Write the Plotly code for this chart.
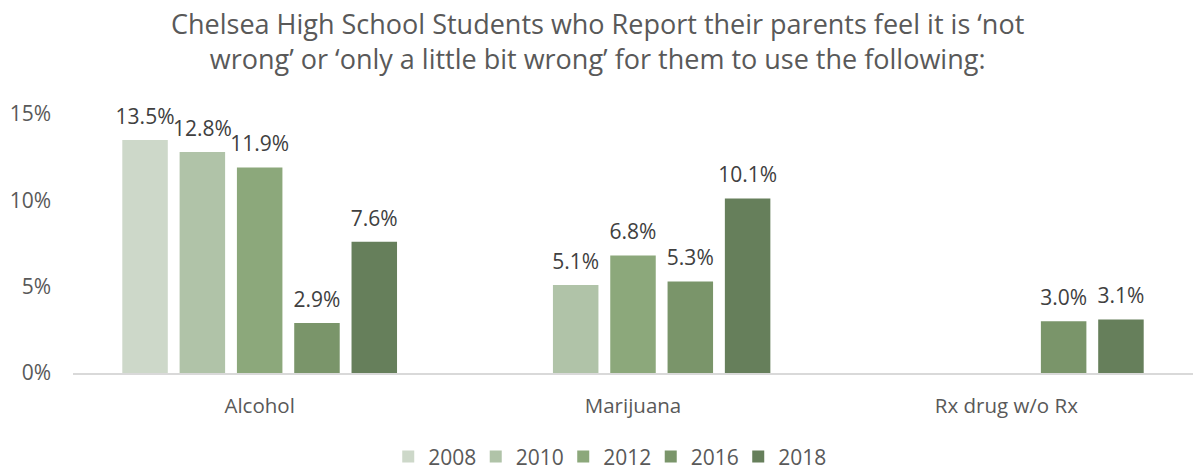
import plotly.graph_objects as go

categories = ["Alcohol", "Marijuana", "Rx drug w/o Rx"]
years = ["2008", "2010", "2012", "2016", "2018"]
values_2008 = [13.5, None, None]
values_2010 = [12.8, 5.1, None]
values_2012 = [11.9, 6.8, None]
values_2016 = [2.9, 5.3, 3.0]
values_2018 = [7.6, 10.1, 3.1]
series = [values_2008, values_2010, values_2012, values_2016, values_2018]
colors = ["#CDD8C9", "#B0C3A8", "#8CA87B", "#7A956A", "#667F5B"]
y_ticks = [0, 5, 10, 15]
y_tick_labels = ["0%", "5%", "10%", "15%"]

FONT = "Open Sans"
TITLE = ("Chelsea High School Students who Report their parents feel it is ‘not<br>"
         "wrong’ or ‘only a little bit wrong’ for them to use the following:")

fig = go.Figure()
for name, vals, col in zip(years, series, colors):
    fig.add_trace(go.Bar(
        name=name, x=categories, y=vals,
        marker=dict(color=col, line=dict(width=0)),
        hoverinfo="skip",
    ))
for name, vals in zip(years, series):
    fig.add_trace(go.Scatter(
        x=categories, y=vals, mode="markers+text",
        text=[None if v is None else f"{v:.1f}%" for v in vals],
        textposition="top center",
        textfont=dict(family=FONT, size=21, color="#404040"),
        marker=dict(size=16, color="rgba(0,0,0,0)"),
        showlegend=False, cliponaxis=False, hoverinfo="skip",
    ))

fig.update_layout(
    width=1195, height=470,
    paper_bgcolor="white", plot_bgcolor="white",
    margin=dict(l=73, r=2, t=114, b=97, autoexpand=False),
    barmode="group", bargap=0.2325, bargroupgap=0.206,
    scattermode="group", scattergap=0.2325,
    annotations=[dict(
        text=TITLE, xref="paper", yref="paper", x=0.468, y=1.28,
        xanchor="center", yanchor="middle", showarrow=False, align="center",
        font=dict(family=FONT, size=27, color="#595959"),
    )],
    xaxis=dict(
        showline=True, linecolor="#D9D9D9", linewidth=1.5,
        ticks="", ticklabelstandoff=14,
        tickfont=dict(family=FONT, size=20.5, color="#595959"),
    ),
    yaxis=dict(
        range=[0, 15], tickvals=y_ticks, ticktext=y_tick_labels,
        showgrid=False, zeroline=False, showline=False,
        ticks="", ticklabelstandoff=21,
        tickfont=dict(family=FONT, size=21, color="#595959"),
    ),
    legend=dict(
        orientation="h", x=0.477, xanchor="center",
        yref="container", y=0.028, yanchor="middle",
        font=dict(family=FONT, size=21, color="#595959"),
        itemwidth=30, traceorder="normal", entrywidth=42.5, entrywidthmode="pixels",
    ),
    showlegend=True,
)

fig.write_html("out.html")
